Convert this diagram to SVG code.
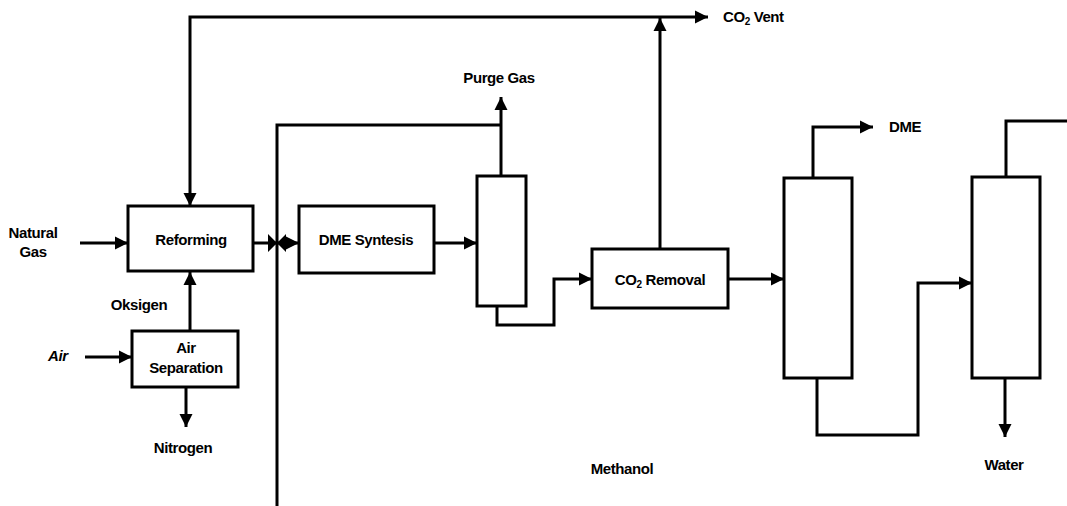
<svg xmlns="http://www.w3.org/2000/svg" width="1067" height="506" viewBox="0 0 1067 506">
<style>
.box{fill:#fff;stroke:#000;stroke-width:3}
.ln{fill:none;stroke:#000;stroke-width:3;stroke-linejoin:miter}
.arr{marker-end:url(#ah)}
text{font-family:"Liberation Sans",Arial,sans-serif;font-weight:bold;font-size:15px;fill:#000;letter-spacing:-0.4px}
.c{text-anchor:middle}
</style>
<defs>
<marker id="ah" markerUnits="userSpaceOnUse" markerWidth="16" markerHeight="16" viewBox="0 0 16 16" refX="14" refY="8" orient="auto">
<path d="M1,1.5 L14,8 L1,14.5 Z" fill="#000"/>
</marker>
</defs>
<rect width="1067" height="506" fill="#fff"/>
<g id="connectors">
<path class="ln arr" d="M660,249 V18"/>
<path class="ln arr" d="M660,17 H708"/>
<path class="ln arr" d="M660,17 H190 V206"/>
<path class="ln arr" d="M80,243 H128"/>
<path class="ln arr" d="M190,331 V272"/>
<path class="ln arr" d="M85,357 H132"/>
<path class="ln arr" d="M186,388 V427"/>
<path class="ln arr" d="M253,243 H299"/>
<path d="M268,234 L277,243 L268,252 Z M286,234 L277,243 L286,252 Z" fill="#000"/>
<path class="ln" d="M277,506 V125 H501"/>
<path class="ln arr" d="M501,176 V97"/>
<path class="ln arr" d="M434,243 H477"/>
<path class="ln arr" d="M497,306 V325 H554 V279 H592"/>
<path class="ln arr" d="M728,279 H784"/>
<path class="ln arr" d="M813,178 V127 H873"/>
<path class="ln arr" d="M817,378 V435 H918 V283 H972"/>
<path class="ln" d="M1006,177 V121 H1067"/>
<path class="ln arr" d="M1005,378 V437"/>
</g>
<g id="reforming">
<rect class="box" x="128" y="206" width="125" height="65"/>
<text class="c" x="191" y="245">Reforming</text>
</g>
<g id="air-separation">
<rect class="box" x="132" y="331" width="106" height="56"/>
<text class="c" x="186" y="353">Air</text>
<text class="c" x="186" y="373">Separation</text>
</g>
<g id="dme-syntesis">
<rect class="box" x="299" y="206" width="135" height="67"/>
<text class="c" x="366" y="245">DME Syntesis</text>
</g>
<g id="separator">
<rect class="box" x="477" y="176" width="49" height="130"/>
</g>
<g id="co2-removal">
<rect class="box" x="592" y="249" width="136" height="59"/>
<text class="c" x="660" y="285">CO<tspan font-size="10" dy="3">2</tspan><tspan dy="-3"> Removal</tspan></text>
</g>
<g id="dme-column">
<rect class="box" x="784" y="178" width="68" height="200"/>
</g>
<g id="methanol-column">
<rect class="box" x="972" y="177" width="68" height="201"/>
</g>
<g id="labels">
<text class="c" x="33" y="238">Natural</text>
<text class="c" x="33" y="257">Gas</text>
<text class="c" x="139" y="310">Oksigen</text>
<text x="48" y="361" font-style="italic">Air</text>
<text class="c" x="183" y="453">Nitrogen</text>
<text class="c" x="499" y="83">Purge Gas</text>
<text x="723" y="22">CO<tspan font-size="10" dy="3">2</tspan><tspan dy="-3"> Vent</tspan></text>
<text x="889" y="132">DME</text>
<text class="c" x="622" y="474">Methanol</text>
<text class="c" x="1004" y="470">Water</text>
</g>
</svg>
